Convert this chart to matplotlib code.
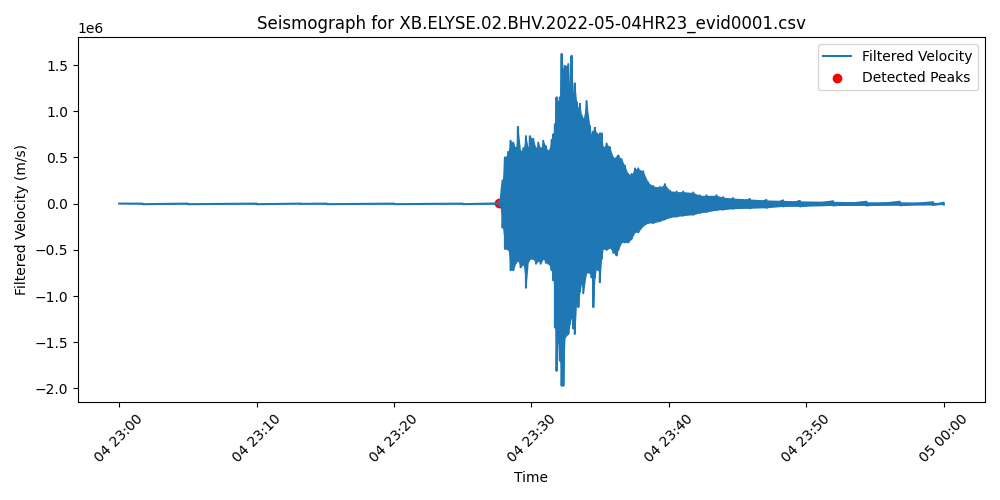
import numpy as np
import pandas as pd
import matplotlib
matplotlib.use("Agg")
import matplotlib.pyplot as plt

# Envelope of the filtered velocity trace
# minutes after 2022-05-04 23:00, amplitude in units of 1e6 m/s
minutes = [0.0, 1.7, 5.0, 10.0, 13.2, 15.1, 20.0, 25.0, 27.5,
           27.71, 27.90, 28.07, 28.31, 28.48, 28.68, 28.87, 29.02, 29.21, 29.41,
           29.60, 29.77, 29.89, 30.13, 30.33, 30.50, 30.67, 30.86, 31.05, 31.22,
           31.47, 31.59, 31.71, 31.83, 31.95, 32.07, 32.20, 32.32, 32.44, 32.68,
           32.80, 32.92, 33.04, 33.16, 33.29, 33.41, 33.53, 33.65, 33.77, 34.01,
           34.25, 34.38, 34.50, 34.62, 34.74, 34.86, 34.98, 35.10, 35.22, 35.47,
           35.71, 35.95, 36.19, 36.32, 36.56, 36.80, 37.04, 37.29, 37.53, 37.77,
           38.13, 38.49, 38.86, 39.35, 39.71, 40.07, 40.56, 41.04, 41.77, 42.25,
           42.74, 43.47, 43.95, 44.68, 45.89, 47.10, 48.31, 49.53, 51.95, 54.38,
           56.80, 59.22, 60.0]
upper = [0.0, 0.0, 0.0, 0.0, 0.0, 0.0, 0.0, 0.0, 0.002,
         0.03, 0.25, 0.50, 0.56, 0.68, 0.66, 0.60, 0.83, 0.57, 0.60,
         0.73, 0.60, 0.73, 0.70, 0.60, 0.66, 0.60, 0.68, 0.62, 0.57,
         0.69, 0.75, 0.86, 1.15, 1.10, 1.15, 1.62, 1.45, 1.49, 1.51,
         1.22, 1.60, 1.20, 1.30, 1.10, 1.03, 1.08, 0.95, 0.92, 1.11,
         0.84, 0.74, 0.78, 0.82, 0.76, 0.74, 0.76, 0.76, 0.61, 0.65,
         0.61, 0.50, 0.50, 0.52, 0.48, 0.41, 0.32, 0.32, 0.38, 0.38,
         0.35, 0.23, 0.19, 0.18, 0.21, 0.14, 0.13, 0.13, 0.12, 0.09,
         0.09, 0.09, 0.07, 0.06, 0.05, 0.04, 0.035, 0.03, 0.025, 0.02,
         0.02, 0.015, 0.01]
lower = [0.0, -0.006, -0.006, -0.006, -0.003, -0.006, -0.006, -0.006, -0.006,
         -0.03, -0.26, -0.49, -0.50, -0.72, -0.72, -0.64, -0.62, -0.69, -0.66,
         -0.91, -0.63, -0.60, -0.60, -0.65, -0.62, -0.65, -0.60, -0.64, -0.65,
         -0.72, -0.83, -1.34, -1.81, -1.50, -1.70, -1.97, -1.97, -1.45, -1.41,
         -1.30, -1.23, -1.35, -1.41, -1.05, -1.12, -0.95, -0.86, -0.97, -0.75,
         -0.75, -0.80, -1.12, -0.80, -0.69, -0.72, -0.85, -0.60, -0.49, -0.50,
         -0.48, -0.53, -0.56, -0.50, -0.42, -0.42, -0.42, -0.38, -0.31, -0.31,
         -0.24, -0.21, -0.21, -0.19, -0.17, -0.15, -0.14, -0.13, -0.12, -0.10,
         -0.09, -0.07, -0.065, -0.055, -0.05, -0.045, -0.03, -0.03, -0.02, -0.02,
         -0.018, -0.015, -0.01]

peak_minutes = [27.66]
peak_values = [0.01]

start = pd.Timestamp("2022-05-04 23:00:00")
scale = 1e6

t = start + pd.to_timedelta(np.array(minutes), unit="m")
up = np.array(upper) * scale
lo = np.array(lower) * scale

# trace alternating between the envelope extremes
tt = np.repeat(t.values, 2)
vv = np.empty(2 * len(up))
vv[0::2] = up
vv[1::2] = lo

fig, ax = plt.subplots(figsize=(10, 5), dpi=100)
ax.fill_between(t.values, lo, up, color="#1f77b4", linewidth=0)
ax.plot(tt, vv, color="#1f77b4", label="Filtered Velocity")
tp = start + pd.to_timedelta(np.array(peak_minutes), unit="m")
ax.scatter(tp.values, np.array(peak_values) * scale, color="red", label="Detected Peaks")

ax.set_title("Seismograph for XB.ELYSE.02.BHV.2022-05-04HR23_evid0001.csv")
ax.set_xlabel("Time")
ax.set_ylabel("Filtered Velocity (m/s)")
ax.legend(loc="upper right")
plt.setp(ax.get_xticklabels(), rotation=45)
fig.tight_layout()
fig.savefig("out.png")
